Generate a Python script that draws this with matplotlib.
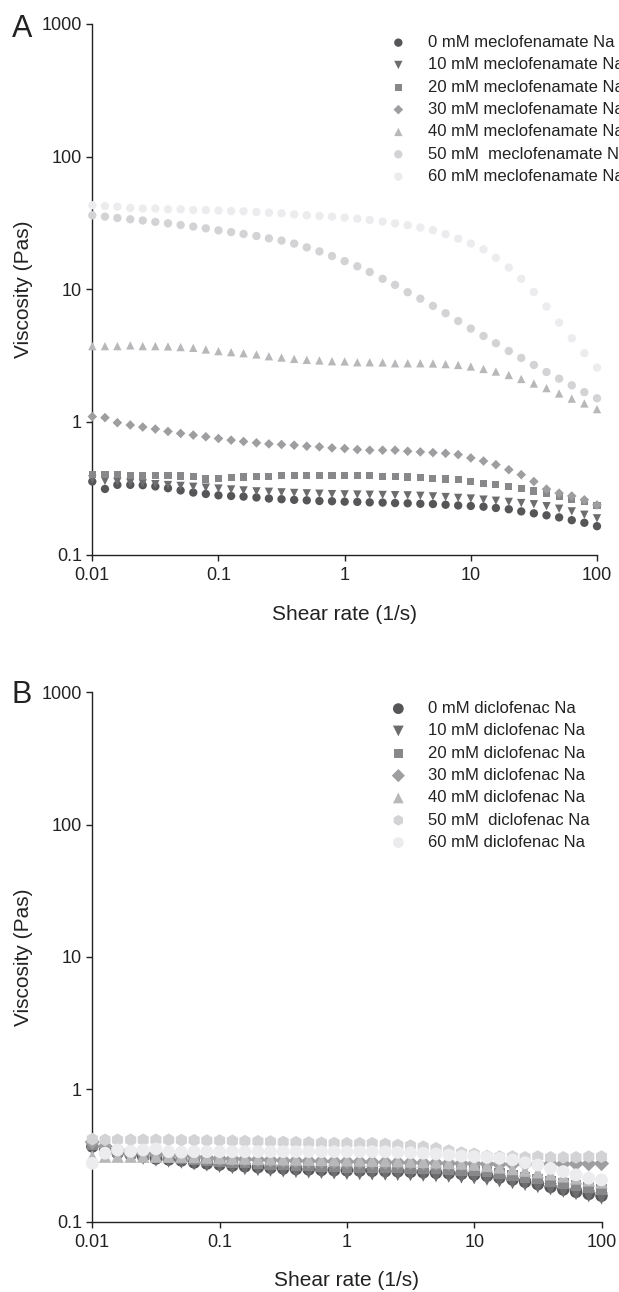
import matplotlib.pyplot as plt
from matplotlib.ticker import FixedLocator, NullLocator

plt.rcParams['font.family'] = ['Liberation Sans', 'DejaVu Sans']

# shear rate grid (1/s), 10 points per decade
shear_rate = [0.01, 0.0126, 0.0158, 0.02, 0.0251, 0.0316, 0.0398, 0.0501, 0.0631, 0.0794,
              0.1, 0.126, 0.158, 0.2, 0.251, 0.316, 0.398, 0.501, 0.631, 0.794,
              1, 1.26, 1.58, 2, 2.51, 3.16, 3.98, 5.01, 6.31, 7.94,
              10, 12.6, 15.8, 20, 25.1, 31.6, 39.8, 50.1, 63.1, 79.4, 100]

# ============================================================================
# panel A - meclofenamate Na
meclo_0 = [0.356, 0.313, 0.336, 0.336, 0.334, 0.327, 0.317, 0.305, 0.294, 0.287,
           0.280, 0.277, 0.274, 0.270, 0.265, 0.262, 0.259, 0.257, 0.254, 0.253,
           0.251, 0.250, 0.248, 0.247, 0.245, 0.244, 0.242, 0.241, 0.238, 0.235,
           0.233, 0.230, 0.225, 0.220, 0.212, 0.205, 0.198, 0.191, 0.182, 0.174, 0.164]
meclo_10 = [0.370, 0.360, 0.355, 0.350, 0.345, 0.340, 0.335, 0.330, 0.325, 0.320,
            0.315, 0.310, 0.305, 0.300, 0.298, 0.295, 0.292, 0.290, 0.288, 0.286,
            0.285, 0.284, 0.283, 0.282, 0.281, 0.280, 0.278, 0.275, 0.272, 0.268,
            0.265, 0.260, 0.255, 0.250, 0.245, 0.240, 0.232, 0.222, 0.212, 0.200, 0.188]
meclo_20 = [0.400, 0.400, 0.400, 0.395, 0.395, 0.395, 0.395, 0.392, 0.390, 0.372,
            0.375, 0.380, 0.385, 0.388, 0.390, 0.393, 0.396, 0.398, 0.398, 0.398,
            0.397, 0.395, 0.393, 0.390, 0.388, 0.385, 0.380, 0.376, 0.372, 0.366,
            0.356, 0.346, 0.337, 0.327, 0.317, 0.302, 0.287, 0.274, 0.262, 0.250, 0.233]
meclo_30 = [1.098, 1.079, 0.988, 0.949, 0.916, 0.885, 0.849, 0.820, 0.797, 0.774,
            0.751, 0.730, 0.713, 0.697, 0.684, 0.677, 0.669, 0.657, 0.650, 0.638,
            0.631, 0.620, 0.613, 0.613, 0.613, 0.602, 0.595, 0.588, 0.581, 0.568,
            0.536, 0.508, 0.477, 0.437, 0.401, 0.356, 0.312, 0.291, 0.277, 0.259, 0.237]
meclo_40 = [3.73, 3.73, 3.73, 3.78, 3.73, 3.73, 3.71, 3.67, 3.62, 3.52,
            3.42, 3.36, 3.30, 3.23, 3.13, 3.06, 2.99, 2.94, 2.91, 2.87,
            2.86, 2.82, 2.82, 2.81, 2.77, 2.77, 2.77, 2.76, 2.73, 2.69,
            2.62, 2.51, 2.40, 2.26, 2.11, 1.95, 1.80, 1.64, 1.50, 1.38, 1.25]
meclo_50 = [36.1, 35.3, 34.5, 33.7, 33.0, 32.2, 31.4, 30.5, 29.7, 28.8,
            27.8, 27.0, 26.1, 25.2, 24.2, 23.3, 22.1, 20.7, 19.3, 17.8,
            16.3, 14.9, 13.5, 12.0, 10.8, 9.5, 8.5, 7.5, 6.6, 5.77,
            5.06, 4.45, 3.92, 3.43, 3.04, 2.69, 2.38, 2.12, 1.89, 1.68, 1.51]
meclo_60 = [43.0, 42.4, 42.0, 41.0, 40.6, 40.6, 40.1, 40.1, 39.6, 39.6,
            39.2, 38.9, 38.7, 38.3, 37.8, 37.4, 36.7, 36.1, 35.7, 35.3,
            34.7, 34.1, 33.3, 32.4, 31.4, 30.4, 29.2, 27.9, 26.0, 24.1,
            22.1, 20.0, 17.3, 14.6, 12.0, 9.55, 7.41, 5.61, 4.27, 3.30, 2.57]

meclo_labels = ['0 mM meclofenamate Na', '10 mM meclofenamate Na', '20 mM meclofenamate Na',
                '30 mM meclofenamate Na', '40 mM meclofenamate Na', '50 mM  meclofenamate Na',
                '60 mM meclofenamate Na']

# ============================================================================
# panel B - diclofenac Na
diclo_0 = [0.370, 0.350, 0.330, 0.320, 0.310, 0.300, 0.295, 0.290, 0.280, 0.275,
           0.270, 0.265, 0.262, 0.258, 0.255, 0.252, 0.250, 0.248, 0.246, 0.245,
           0.244, 0.243, 0.242, 0.241, 0.240, 0.238, 0.236, 0.234, 0.232, 0.230,
           0.227, 0.222, 0.215, 0.208, 0.200, 0.192, 0.183, 0.175, 0.168, 0.162, 0.157]
diclo_10 = [0.360, 0.340, 0.320, 0.310, 0.300, 0.290, 0.285, 0.280, 0.272, 0.266,
            0.260, 0.255, 0.250, 0.246, 0.243, 0.240, 0.238, 0.236, 0.234, 0.232,
            0.230, 0.229, 0.228, 0.227, 0.226, 0.225, 0.223, 0.221, 0.219, 0.216,
            0.213, 0.208, 0.202, 0.196, 0.190, 0.183, 0.176, 0.169, 0.162, 0.156, 0.150]
diclo_20 = [0.380, 0.360, 0.340, 0.330, 0.320, 0.310, 0.305, 0.300, 0.295, 0.290,
            0.285, 0.280, 0.277, 0.274, 0.271, 0.268, 0.266, 0.264, 0.262, 0.260,
            0.258, 0.257, 0.256, 0.255, 0.254, 0.253, 0.252, 0.250, 0.248, 0.245,
            0.242, 0.237, 0.231, 0.224, 0.217, 0.210, 0.202, 0.195, 0.188, 0.181, 0.175]
diclo_30 = [0.400, 0.370, 0.350, 0.340, 0.330, 0.325, 0.320, 0.315, 0.310, 0.305,
            0.300, 0.298, 0.296, 0.294, 0.292, 0.290, 0.288, 0.287, 0.286, 0.285,
            0.284, 0.283, 0.282, 0.281, 0.280, 0.279, 0.278, 0.277, 0.276, 0.275,
            0.274, 0.273, 0.272, 0.272, 0.272, 0.272, 0.273, 0.273, 0.274, 0.274, 0.275]
diclo_40 = [0.310, 0.310, 0.310, 0.310, 0.310, 0.310, 0.310, 0.310, 0.308, 0.305,
            0.303, 0.300, 0.300, 0.298, 0.297, 0.296, 0.295, 0.294, 0.293, 0.292,
            0.291, 0.290, 0.289, 0.288, 0.287, 0.285, 0.283, 0.281, 0.278, 0.275,
            0.270, 0.264, 0.257, 0.250, 0.243, 0.236, 0.228, 0.220, 0.212, 0.205, 0.198]
diclo_50 = [0.420, 0.415, 0.415, 0.415, 0.415, 0.415, 0.415, 0.413, 0.412, 0.410,
            0.410, 0.408, 0.406, 0.405, 0.403, 0.400, 0.398, 0.396, 0.394, 0.392,
            0.391, 0.391, 0.391, 0.386, 0.379, 0.375, 0.368, 0.358, 0.344, 0.332,
            0.325, 0.313, 0.310, 0.310, 0.306, 0.310, 0.306, 0.306, 0.306, 0.310, 0.310]
diclo_60 = [0.276, 0.329, 0.348, 0.340, 0.348, 0.355, 0.338, 0.335, 0.338, 0.338,
            0.338, 0.338, 0.338, 0.338, 0.338, 0.338, 0.338, 0.338, 0.338, 0.338,
            0.338, 0.338, 0.338, 0.338, 0.334, 0.332, 0.329, 0.325, 0.319, 0.313,
            0.310, 0.306, 0.301, 0.293, 0.279, 0.268, 0.253, 0.239, 0.226, 0.213, 0.207]

diclo_labels = ['0 mM diclofenac Na', '10 mM diclofenac Na', '20 mM diclofenac Na',
                '30 mM diclofenac Na', '40 mM diclofenac Na', '50 mM  diclofenac Na',
                '60 mM diclofenac Na']

x_ticks = [0.01, 0.1, 1, 10, 100]
x_ticklabels = ['0.01', '0.1', '1', '10', '100']
y_ticks = [0.1, 1, 10, 100, 1000]
y_ticklabels = ['0.1', '1', '10', '100', '1000']

greys = ['#565658', '#6d6d6f', '#88888a', '#9e9ea0', '#b8b8ba', '#d3d3d5', '#ececee']

W, H = 619, 1292
fig = plt.figure(figsize=(W / 100, H / 100), dpi=100)


def setup_axes(ax):
    ax.set_xscale('log')
    ax.set_yscale('log')
    ax.set_xlim(0.01, 100)
    ax.set_ylim(0.1, 1000)
    ax.spines['top'].set_visible(False)
    ax.spines['right'].set_visible(False)
    for s in ('left', 'bottom'):
        ax.spines[s].set_linewidth(1.0)
        ax.spines[s].set_color('#222222')
    ax.xaxis.set_major_locator(FixedLocator(x_ticks))
    ax.xaxis.set_minor_locator(NullLocator())
    ax.yaxis.set_major_locator(FixedLocator(y_ticks))
    ax.yaxis.set_minor_locator(NullLocator())
    ax.set_xticklabels(x_ticklabels)
    ax.set_yticklabels(y_ticklabels)
    ax.tick_params(axis='both', direction='out', length=4, width=1.0,
                   color='#222222', labelsize=13, labelcolor='#222222')
    ax.tick_params(axis='x', pad=5)
    ax.tick_params(axis='y', pad=3.5)
    ax.set_xlabel('Shear rate (1/s)', fontsize=15, color='#222222')
    ax.set_ylabel('Viscosity (Pas)', fontsize=15, color='#222222')
    ax.xaxis.set_label_coords(0.5, -0.094)
    ax.yaxis.set_label_coords(-0.117, 0.5)


def add_legend(ax, top_px, sizes):
    leg = ax.legend(loc='upper left', bbox_to_anchor=(390 / W, 1 - top_px / H),
                    bbox_transform=fig.transFigure, frameon=False, fontsize=12,
                    handlelength=1.0, handletextpad=1.25, labelspacing=0.44,
                    borderpad=0, borderaxespad=0, scatterpoints=1, labelcolor='#222222')
    for h, sz in zip(leg.legend_handles, sizes):
        h.set_sizes([sz])
    return leg


# ============================================================================
axA = fig.add_axes([92.3 / W, 1 - 554.7 / H, 504.7 / W, 530.8 / H])
setup_axes(axA)
markersA = ['o', 'v', 's', 'D', '^', 'o', 'o']
sizesA = [36, 36, 26, 24, 36, 36, 36]
seriesA = [meclo_0, meclo_10, meclo_20, meclo_30, meclo_40, meclo_50, meclo_60]
for vals, m, sz, c, lab in zip(seriesA, markersA, sizesA, greys, meclo_labels):
    axA.scatter(shear_rate, vals, marker=m, s=sz, color=c, edgecolors='none',
                label=lab, clip_on=False, zorder=3)
add_legend(axA, 35, sizesA)
fig.text(12 / W, 1 - 37 / H, 'A', fontsize=22, color='#222222', va='baseline')

# ============================================================================
axB = fig.add_axes([92.3 / W, 1 - 1221.7 / H, 509.2 / W, 529.6 / H])
setup_axes(axB)
markersB = ['o', 'v', 's', 'D', '^', 'h', 'o']
sizesB = [80, 80, 60, 60, 80, 85, 85]
seriesB = [diclo_0, diclo_10, diclo_20, diclo_30, diclo_40, diclo_50, diclo_60]
for vals, m, sz, c, lab in zip(seriesB, markersB, sizesB, greys, diclo_labels):
    axB.scatter(shear_rate, vals, marker=m, s=sz, color=c, edgecolors='none',
                label=lab, clip_on=False, zorder=3)
add_legend(axB, 701, [60, 60, 45, 45, 60, 60, 60])
fig.text(12 / W, 1 - 703 / H, 'B', fontsize=22, color='#222222', va='baseline')

plt.savefig('out.png', dpi=100)
